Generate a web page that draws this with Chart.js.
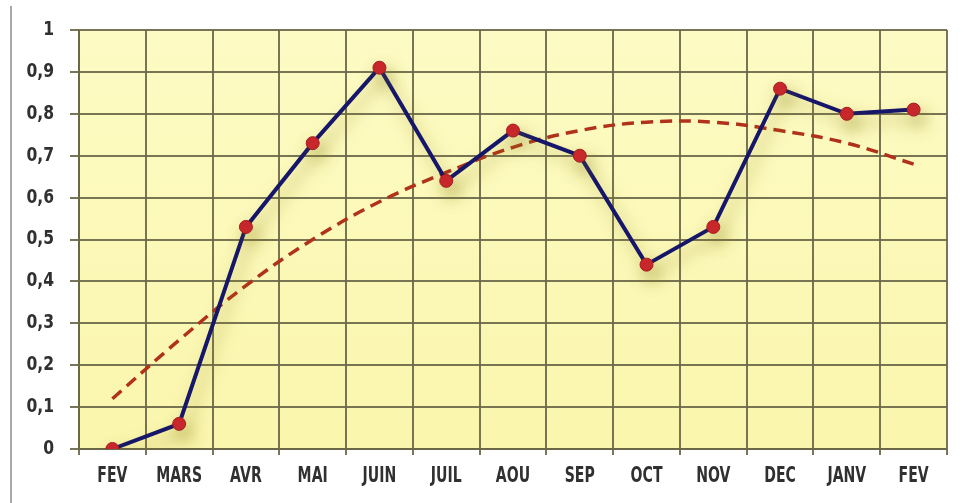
<!DOCTYPE html>
<html>
<head>
<meta charset="utf-8">
<script src="https://cdn.jsdelivr.net/npm/chart.js@4/dist/chart.umd.min.js"></script>
<style>
  html, body { margin: 0; padding: 0; background: #fff; }
  #wrap { position: relative; width: 966px; height: 503px; }
  #frame { position: absolute; left: 10px; top: 6px; width: 0; height: 497px; border-left: 2px solid #a9a9a9; }
</style>
</head>
<body>
<div id="wrap">
  <div id="frame"></div>
  <canvas id="myChart" width="966" height="503"></canvas>
</div>
<script>
// mois
const months = ['FEV', 'MARS', 'AVR', 'MAI', 'JUIN', 'JUIL', 'AOU', 'SEP', 'OCT', 'NOV', 'DEC', 'JANV', 'FEV']
// valeurs mensuelles
const values = [0, 0.06, 0.53, 0.73, 0.91, 0.64, 0.76, 0.70, 0.44, 0.53, 0.86, 0.80, 0.81]
// courbe de tendance
const trend = [0.12, 0.26, 0.39, 0.50, 0.59, 0.66, 0.72, 0.76, 0.78, 0.78, 0.76, 0.73, 0.68]
// graduations
const yTicks = [0, 0.1, 0.2, 0.3, 0.4, 0.5, 0.6, 0.7, 0.8, 0.9, 1]

const gridColor = 'rgba(105,102,72,0.9)'
const fmt = v => String(Number(v.toFixed(1))).replace('.', ',')

// fond jaune de la zone de tracé
const plotBg = {
  id: 'plotBg',
  beforeDraw(chart) {
    const { ctx, chartArea: a } = chart
    const g = ctx.createLinearGradient(0, a.top, 0, a.bottom)
    g.addColorStop(0, '#fdfbc4')
    g.addColorStop(1, '#faf6ad')
    ctx.save()
    ctx.fillStyle = g
    ctx.fillRect(a.left, a.top, a.right - a.left, a.bottom - a.top)
    ctx.restore()
  }
}

// ombre douce sous la courbe bleue
const lineShadow = {
  id: 'lineShadow',
  beforeDatasetDraw(chart, args) {
    if (args.index !== 0) return
    const ctx = chart.ctx
    ctx.save()
    ctx.shadowColor = 'rgba(140,130,20,0.5)'
    ctx.shadowBlur = 16
    ctx.shadowOffsetX = 5
    ctx.shadowOffsetY = 9
  },
  afterDatasetDraw(chart, args) {
    if (args.index !== 0) return
    chart.ctx.restore()
  }
}

// étiquettes des axes en police étroite (texte compressé horizontalement)
const narrowLabels = {
  id: 'narrowLabels',
  afterDraw(chart) {
    const ctx = chart.ctx
    const xs = chart.scales.x
    const ys = chart.scales.y
    ctx.save()
    ctx.fillStyle = '#303030'
    ctx.textBaseline = 'middle'

    ctx.font = 'bold 22px "DejaVu Sans"'
    ctx.textAlign = 'center'
    xs.ticks.forEach((t, i) => {
      ctx.save()
      ctx.translate(xs.getPixelForTick(i), xs.top + 27)
      ctx.scale(0.64, 1)
      ctx.fillText(xs.getLabelForValue(t.value), 0, 0)
      ctx.restore()
    })

    ctx.font = 'bold 19px "DejaVu Sans"'
    ctx.textAlign = 'right'
    ys.ticks.forEach(t => {
      ctx.save()
      ctx.translate(ys.right - 25, ys.getPixelForValue(t.value))
      ctx.scale(0.82, 1)
      ctx.fillText(fmt(t.value), 0, 0)
      ctx.restore()
    })
    ctx.restore()
  }
}

const ctx = document.getElementById('myChart')
const myChart = new Chart(ctx, {
  type: 'line',
  data: {
    labels: months,
    datasets: [
      {
        data: values,
        borderColor: '#16166a',
        borderWidth: 4,
        tension: 0,
        pointRadius: 6.5,
        pointBackgroundColor: '#c9262c',
        pointBorderColor: '#a51d22',
        pointBorderWidth: 1,
        order: 0,
      },
      {
        data: trend,
        borderColor: '#b0321a',
        borderWidth: 3.5,
        borderDash: [12, 7],
        tension: 0.4,
        pointRadius: 0,
        order: 1,
      },
    ],
  },
  options: {
    responsive: false,
    animation: false,
    layout: { padding: { top: 30, right: 19, left: 0, bottom: 0 } },
    plugins: {
      legend: { display: false },
      tooltip: { enabled: false },
    },
    scales: {
      x: {
        offset: true,
        grid: { offset: true, color: gridColor, lineWidth: 2, tickLength: 6, tickColor: gridColor },
        border: { color: gridColor, width: 2 },
        ticks: { display: false, autoSkip: false },
        afterFit(scale) { scale.height = 54 },
      },
      y: {
        min: 0,
        max: 1,
        afterBuildTicks(scale) { scale.ticks = yTicks.map(v => ({ value: v })) },
        grid: { color: gridColor, lineWidth: 2, tickLength: 9, tickColor: gridColor },
        border: { color: gridColor, width: 2 },
        ticks: { display: false },
        afterFit(scale) { scale.width = 79 },
      },
    },
  },
  plugins: [plotBg, lineShadow, narrowLabels],
})
</script>
</body>
</html>
